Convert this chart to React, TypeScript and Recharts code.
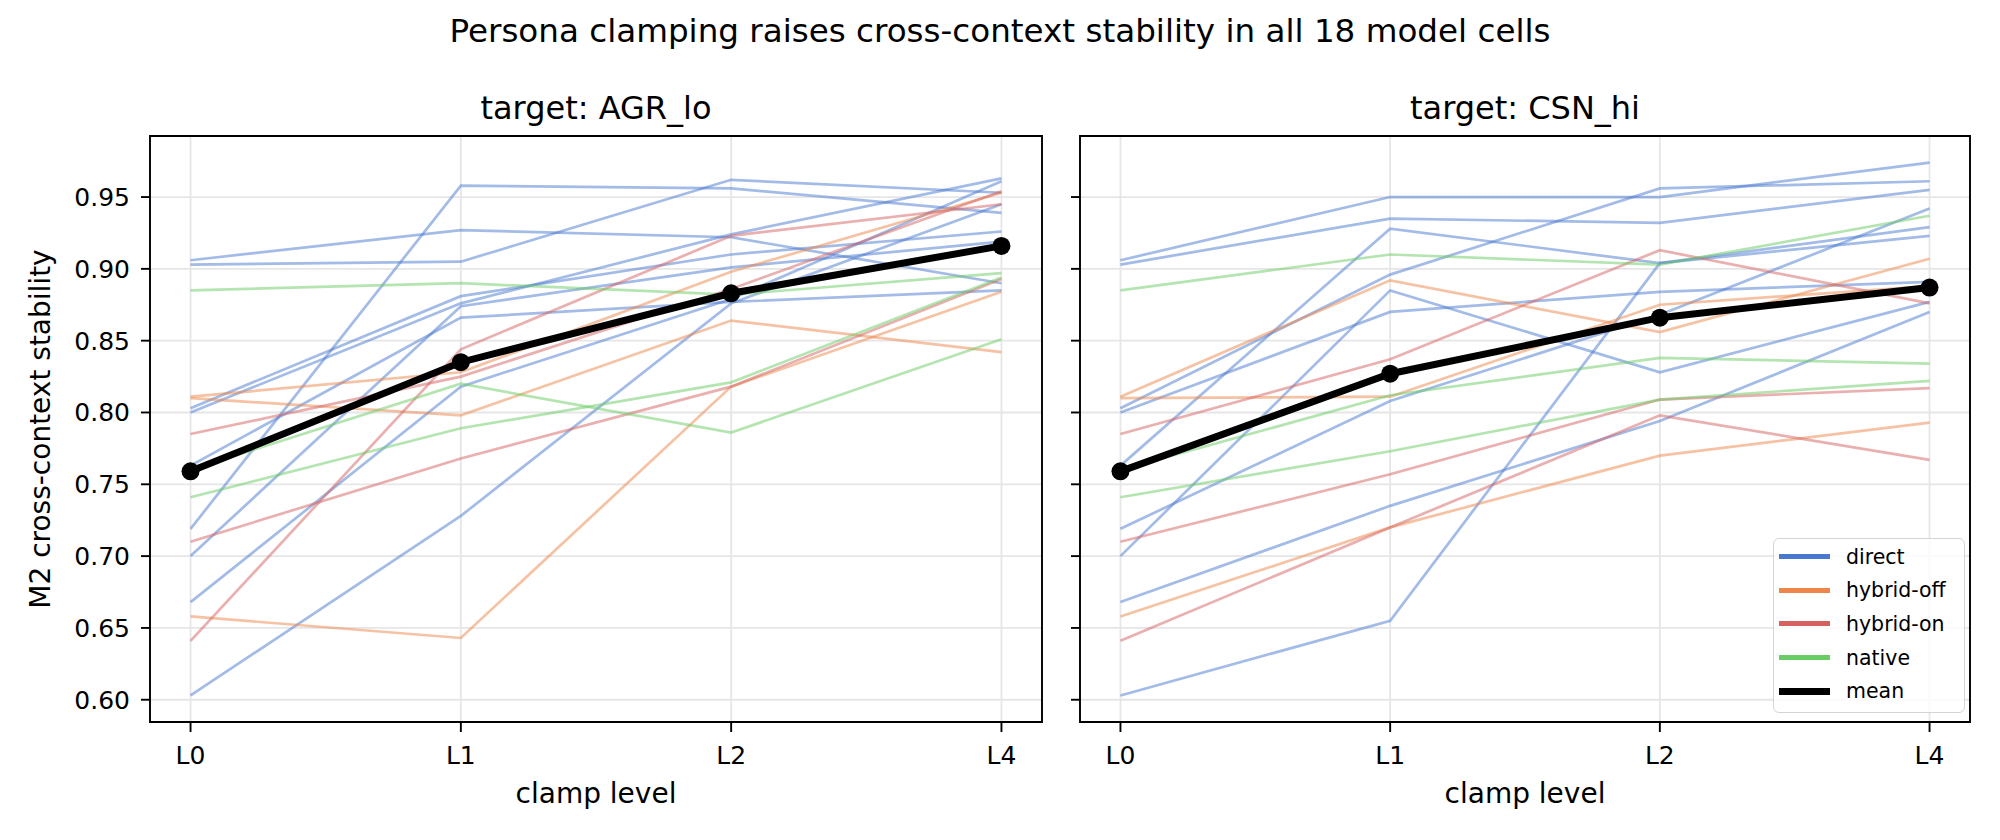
import React from "react";
import { LineChart, Line, XAxis, YAxis, CartesianGrid, ReferenceArea, Legend } from "recharts";

// clamp levels on the x axis and y tick values
const LEVELS = ["L0", "L1", "L2", "L4"];
const Y_TICKS = [0.6, 0.65, 0.7, 0.75, 0.8, 0.85, 0.9, 0.95];
const Y_DOMAIN: [number, number] = [0.5845, 0.9925];
const X_DOMAIN: [number, number] = [-0.15, 3.15];

const FAMILIES = ["direct", "hybrid-off", "hybrid-on", "native"];
const COLORS: Record<string, string> = {
  direct: "#4878d0",
  "hybrid-off": "#ee854a",
  "hybrid-on": "#d65f5f",
  native: "#6acc64",
};

// target: AGR_lo -- one row per model cell, values at L0, L1, L2, L4
const AGR_DIRECT = [
  [0.906, 0.927, 0.922, 0.890],
  [0.903, 0.905, 0.962, 0.953],
  [0.719, 0.958, 0.956, 0.939],
  [0.803, 0.881, 0.910, 0.926],
  [0.800, 0.876, 0.924, 0.963],
  [0.763, 0.866, 0.877, 0.885],
  [0.700, 0.874, 0.901, 0.919],
  [0.668, 0.818, 0.879, 0.961],
  [0.603, 0.728, 0.876, 0.945],
];
const AGR_HYBRID_OFF = [
  [0.811, 0.828, 0.898, 0.953],
  [0.810, 0.798, 0.864, 0.842],
  [0.658, 0.643, 0.818, 0.884],
];
const AGR_HYBRID_ON = [
  [0.785, 0.825, 0.886, 0.954],
  [0.710, 0.768, 0.818, 0.893],
  [0.641, 0.844, 0.923, 0.945],
];
const AGR_NATIVE = [
  [0.885, 0.890, 0.882, 0.897],
  [0.760, 0.820, 0.786, 0.851],
  [0.741, 0.789, 0.821, 0.894],
];
const AGR_MEAN = [0.759, 0.835, 0.883, 0.916];

// target: CSN_hi
const CSN_DIRECT = [
  [0.906, 0.950, 0.950, 0.974],
  [0.903, 0.935, 0.932, 0.955],
  [0.719, 0.808, 0.868, 0.942],
  [0.803, 0.896, 0.956, 0.961],
  [0.800, 0.870, 0.884, 0.891],
  [0.763, 0.928, 0.904, 0.929],
  [0.700, 0.885, 0.828, 0.877],
  [0.668, 0.735, 0.794, 0.870],
  [0.603, 0.655, 0.904, 0.923],
];
const CSN_HYBRID_OFF = [
  [0.811, 0.892, 0.856, 0.907],
  [0.810, 0.811, 0.875, 0.888],
  [0.658, 0.720, 0.770, 0.793],
];
const CSN_HYBRID_ON = [
  [0.785, 0.837, 0.913, 0.876],
  [0.710, 0.757, 0.809, 0.817],
  [0.641, 0.720, 0.798, 0.767],
];
const CSN_NATIVE = [
  [0.885, 0.910, 0.903, 0.937],
  [0.760, 0.812, 0.838, 0.834],
  [0.741, 0.773, 0.809, 0.822],
];
const CSN_MEAN = [0.759, 0.827, 0.866, 0.887];

const FONT = "'DejaVu Sans', sans-serif";

function buildRows(groups: number[][][], mean: number[]) {
  return LEVELS.map((_, i) => {
    const row: Record<string, number> = { x: i, mean: mean[i] };
    groups.forEach((cells, g) => {
      cells.forEach((vals, c) => {
        row[`${FAMILIES[g]}-${c}`] = vals[i];
      });
    });
    return row;
  });
}

function LegendBox() {
  const items = [...FAMILIES.map((f) => ({ name: f, color: COLORS[f], w: 5 })), { name: "mean", color: "#000", w: 7 }];
  return (
    <div
      style={{
        boxSizing: "border-box",
        width: 192,
        height: 175,
        border: "1.5px solid #d4d4d4",
        borderRadius: 6,
        background: "rgba(255,255,255,0.8)",
        paddingTop: 1,
        fontFamily: FONT,
        fontSize: 20.5,
        color: "#000",
      }}
    >
      {items.map((it) => (
        <div key={it.name} style={{ display: "flex", alignItems: "center", height: 33.6 }}>
          <div style={{ marginLeft: 5, width: 51, height: it.w, background: it.color }} />
          <span style={{ marginLeft: 16 }}>{it.name}</span>
        </div>
      ))}
    </div>
  );
}

interface PanelProps {
  groups: number[][][];
  mean: number[];
  width: number;
  left: number;
  yAxisWidth: number;
  marginLeft: number;
  marginRight: number;
  showYLabels: boolean;
  showLegend: boolean;
}

function Panel({ groups, mean, width, left, yAxisWidth, marginLeft, marginRight, showYLabels, showLegend }: PanelProps) {
  const data = buildRows(groups, mean);
  return (
    <div style={{ position: "absolute", left, top: 0 }}>
      <LineChart width={width} height={840} data={data} margin={{ top: 136, right: marginRight, bottom: 78, left: marginLeft }}>
        <CartesianGrid stroke="#e6e6e6" strokeWidth={1.8} />
        <XAxis
          type="number"
          dataKey="x"
          domain={X_DOMAIN}
          ticks={[0, 1, 2, 3]}
          allowDataOverflow
          tickFormatter={(v: number) => LEVELS[v]}
          height={40}
          axisLine={false}
          tickSize={10}
          tickMargin={14}
          tickLine={{ stroke: "#000", strokeWidth: 1.9 }}
          tick={{ fill: "#000", fontSize: 25, fontFamily: FONT }}
        />
        <YAxis
          type="number"
          domain={Y_DOMAIN}
          ticks={Y_TICKS}
          allowDataOverflow
          width={yAxisWidth}
          tickFormatter={(v: number) => (showYLabels ? v.toFixed(2) : "")}
          axisLine={false}
          tickSize={9}
          tickMargin={11}
          tickLine={{ stroke: "#000", strokeWidth: 1.9 }}
          tick={{ fill: "#000", fontSize: 25, fontFamily: FONT }}
        />
        <ReferenceArea
          x1={X_DOMAIN[0]}
          x2={X_DOMAIN[1]}
          y1={Y_DOMAIN[0]}
          y2={Y_DOMAIN[1]}
          fill="none"
          stroke="#000"
          strokeWidth={1.9}
        />
        {groups.map((cells, g) =>
          cells.map((_, c) => (
            <Line
              key={`${FAMILIES[g]}-${c}`}
              dataKey={`${FAMILIES[g]}-${c}`}
              stroke={COLORS[FAMILIES[g]]}
              strokeOpacity={0.5}
              strokeWidth={2.7}
              dot={false}
              activeDot={false}
              isAnimationActive={false}
            />
          ))
        )}
        <Line
          dataKey="mean"
          stroke="#000"
          strokeWidth={7}
          dot={{ r: 9, fill: "#000", stroke: "#000", strokeWidth: 0 }}
          activeDot={false}
          isAnimationActive={false}
        />
        {showLegend && (
          <Legend
            layout="vertical"
            align="center"
            verticalAlign="middle"
            content={() => <LegendBox />}
            wrapperStyle={{ left: 713, top: 538, width: 192, height: 175 }}
          />
        )}
      </LineChart>
    </div>
  );
}

export default function App() {
  return (
    <div style={{ position: "absolute", left: 0, top: 0, width: 2000, height: 840, background: "#fff", overflow: "hidden" }}>
      <Panel
        groups={[AGR_DIRECT, AGR_HYBRID_OFF, AGR_HYBRID_ON, AGR_NATIVE]}
        mean={AGR_MEAN}
        width={1060}
        left={0}
        yAxisWidth={60}
        marginLeft={90}
        marginRight={18}
        showYLabels
        showLegend={false}
      />
      <Panel
        groups={[CSN_DIRECT, CSN_HYBRID_OFF, CSN_HYBRID_ON, CSN_NATIVE]}
        mean={CSN_MEAN}
        width={940}
        left={1060}
        yAxisWidth={20}
        marginLeft={0}
        marginRight={30}
        showYLabels={false}
        showLegend
      />
      <svg width={2000} height={840} style={{ position: "absolute", left: 0, top: 0, pointerEvents: "none" }} fontFamily={FONT} fill="#000">
        <text x={1000} y={42} textAnchor="middle" fontSize={32.6}>
          Persona clamping raises cross-context stability in all 18 model cells
        </text>
        <text x={596} y={119} textAnchor="middle" fontSize={32}>target: AGR_lo</text>
        <text x={1525} y={119} textAnchor="middle" fontSize={32}>target: CSN_hi</text>
        <text x={596} y={803} textAnchor="middle" fontSize={28}>clamp level</text>
        <text x={1525} y={803} textAnchor="middle" fontSize={28}>clamp level</text>
        <text transform="translate(50,429) rotate(-90)" textAnchor="middle" fontSize={28}>
          M2 cross-context stability
        </text>
      </svg>
    </div>
  );
}
